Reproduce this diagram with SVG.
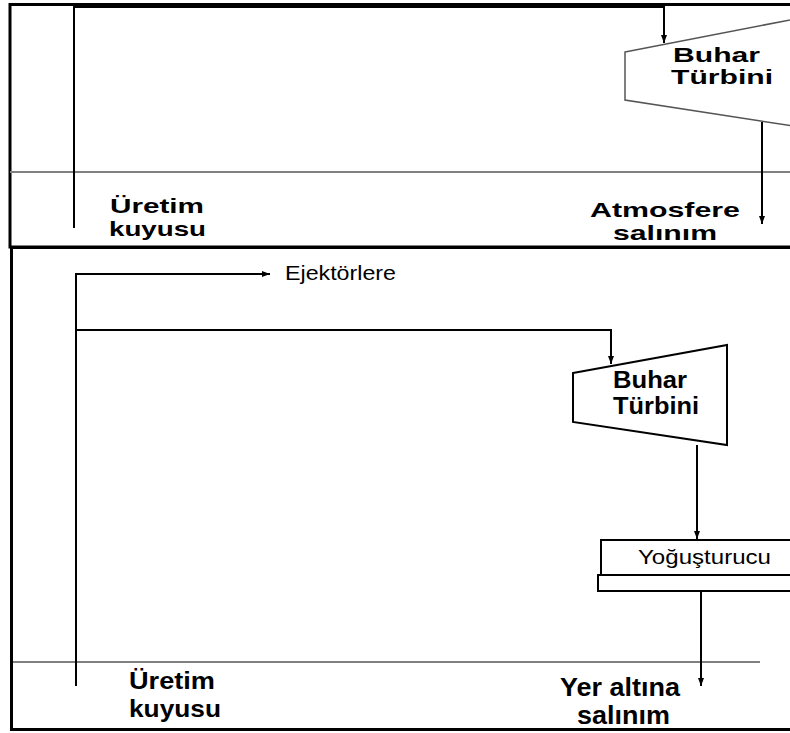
<svg xmlns="http://www.w3.org/2000/svg" width="790" height="733" viewBox="0 0 790 733">
  <style>
    .frame { fill: none; stroke: #000; stroke-width: 3; }
    .pipe { fill: none; stroke: #000; stroke-width: 2; }
    .ground { fill: none; stroke: #808080; stroke-width: 2; }
    .turbA { fill: #fff; stroke: #555; stroke-width: 1.5; }
    .turbB { fill: #fff; stroke: #000; stroke-width: 2; }
    .box { fill: #fff; stroke: #000; stroke-width: 2; }
    .lbl { font-family: "Liberation Sans", Arial, sans-serif; font-weight: bold; fill: #000; }
    .reg { font-family: "Liberation Sans", Arial, sans-serif; fill: #000; }
  </style>
  <defs>
    <marker id="arrow" markerUnits="userSpaceOnUse" markerWidth="8" markerHeight="8" viewBox="0 0 8 8" refX="8" refY="4" orient="auto">
      <path d="M0,1 L8,4 L0,7 Z" fill="#000"/>
    </marker>
  </defs>
  <rect width="790" height="733" fill="#fff"/>

  <!-- upper panel: direct-release plant -->
  <g id="panel-top">
    <path class="frame" d="M795,4.5 H10 V247 H795"/>
    <line class="ground" x1="10" y1="172" x2="790" y2="172"/>
  </g>
  <g id="turbine-top">
    <polygon class="turbA" points="625,52 800,18 800,127 625,100"/>
    <text class="lbl" font-size="21" x="673" y="62" textLength="87" lengthAdjust="spacingAndGlyphs">Buhar</text>
    <text class="lbl" font-size="21" x="671" y="84" textLength="102" lengthAdjust="spacingAndGlyphs">Türbini</text>
  </g>
  <g id="well-top">
    <text class="lbl" font-size="21" x="110" y="213" textLength="94" lengthAdjust="spacingAndGlyphs">Üretim</text>
    <text class="lbl" font-size="21" x="109" y="236" textLength="97" lengthAdjust="spacingAndGlyphs">kuyusu</text>
  </g>
  <g id="release-top">
    <text class="lbl" font-size="21" x="590" y="217" textLength="150" lengthAdjust="spacingAndGlyphs">Atmosfere</text>
    <text class="lbl" font-size="21" x="613" y="240" textLength="104" lengthAdjust="spacingAndGlyphs">salınım</text>
  </g>
  <g id="connectors-top">
    <path class="pipe" d="M74,228 V7 H664 V43" marker-end="url(#arrow)"/>
    <path class="pipe" d="M762,122 V224" marker-end="url(#arrow)"/>
  </g>

  <!-- lower panel: condensing plant -->
  <g id="panel-bottom">
    <path class="frame" d="M795,247.5 H11.5 V729.5 H795"/>
    <line class="ground" x1="13" y1="662" x2="760" y2="662"/>
  </g>
  <g id="turbine-bottom">
    <polygon class="turbB" points="573,373 727,345 727,445 573,422"/>
    <text class="lbl" font-size="24" x="613" y="388" textLength="74" lengthAdjust="spacingAndGlyphs">Buhar</text>
    <text class="lbl" font-size="24" x="613" y="414" textLength="86" lengthAdjust="spacingAndGlyphs">Türbini</text>
  </g>
  <g id="condenser">
    <rect class="box" x="601" y="540" width="200" height="35"/>
    <rect class="box" x="598" y="575" width="203" height="16"/>
    <text class="reg" font-size="20" x="638" y="564" textLength="133" lengthAdjust="spacingAndGlyphs">Yoğuşturucu</text>
  </g>
  <g id="ejectors">
    <text class="reg" font-size="20" x="285" y="280" textLength="111" lengthAdjust="spacingAndGlyphs">Ejektörlere</text>
  </g>
  <g id="well-bottom">
    <text class="lbl" font-size="24" x="129" y="689" textLength="86" lengthAdjust="spacingAndGlyphs">Üretim</text>
    <text class="lbl" font-size="24" x="129" y="717" textLength="92" lengthAdjust="spacingAndGlyphs">kuyusu</text>
  </g>
  <g id="release-bottom">
    <text class="lbl" font-size="25" x="560" y="696" textLength="120" lengthAdjust="spacingAndGlyphs">Yer altına</text>
    <text class="lbl" font-size="25" x="577" y="724" textLength="93" lengthAdjust="spacingAndGlyphs">salınım</text>
  </g>
  <g id="connectors-bottom">
    <path class="pipe" d="M76,686 V274 H270" marker-end="url(#arrow)"/>
    <path class="pipe" d="M76,330 H611 V364" marker-end="url(#arrow)"/>
    <path class="pipe" d="M697,445 V539" marker-end="url(#arrow)"/>
    <path class="pipe" d="M701,591 V686" marker-end="url(#arrow)"/>
  </g>
</svg>
